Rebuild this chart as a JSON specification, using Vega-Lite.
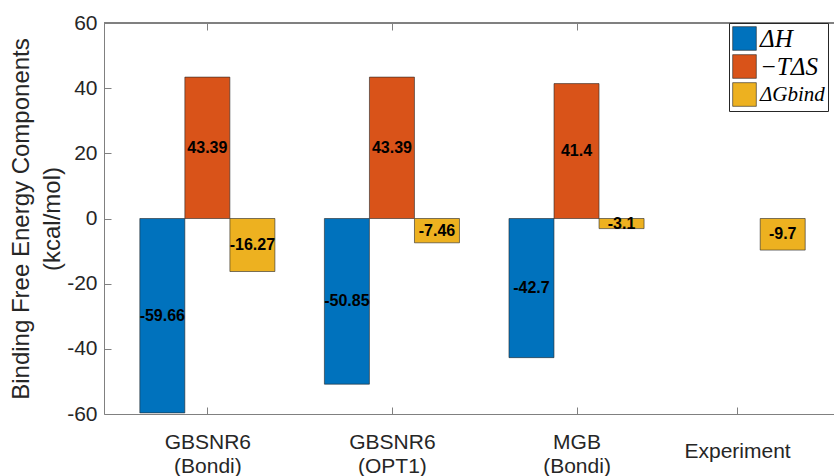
{
  "$schema": "https://vega.github.io/schema/vega-lite/v6.json",
  "width": 730,
  "height": 391,
  "autosize": "none",
  "padding": {"left": 104, "top": 23, "right": 0, "bottom": 62},
  "background": "white",
  "config": {
    "view": {"stroke": null},
    "font": "Liberation Sans",
    "axis": {"grid": false, "domainColor": "#808080", "tickColor": "#808080", "labelColor": "#262626", "titleColor": "#262626", "labelFont": "Liberation Sans", "titleFont": "Liberation Sans"}
  },
  "data": {
    "values": [
      {"method": "GBSNR6 (Bondi)", "component": "ΔH", "value": -59.66, "pos": 0.756},
      {"method": "GBSNR6 (Bondi)", "component": "−TΔS", "value": 43.39, "pos": 1.0},
      {"method": "GBSNR6 (Bondi)", "component": "ΔGbind", "value": -16.27, "pos": 1.244},
      {"method": "GBSNR6 (OPT1)", "component": "ΔH", "value": -50.85, "pos": 1.756},
      {"method": "GBSNR6 (OPT1)", "component": "−TΔS", "value": 43.39, "pos": 2.0},
      {"method": "GBSNR6 (OPT1)", "component": "ΔGbind", "value": -7.46, "pos": 2.244},
      {"method": "MGB (Bondi)", "component": "ΔH", "value": -42.7, "pos": 2.756},
      {"method": "MGB (Bondi)", "component": "−TΔS", "value": 41.4, "pos": 3.0},
      {"method": "MGB (Bondi)", "component": "ΔGbind", "value": -3.1, "pos": 3.244},
      {"method": "Experiment", "component": "ΔGbind", "value": -9.7, "pos": 4.117}
    ]
  },
  "layer": [
    {
      "mark": {"type": "bar", "size": 45, "stroke": "#262626", "strokeWidth": 0.6},
      "encoding": {
        "x": {
          "field": "pos", "type": "quantitative",
          "scale": {"domain": [0.44, 4.395], "nice": false, "zero": false, "padding": 0},
          "axis": {
            "orient": "bottom", "title": null,
            "values": [1, 2, 3, 3.87],
            "labelExpr": "datum.value == 1 ? ['GBSNR6', '(Bondi)'] : datum.value == 2 ? ['GBSNR6', '(OPT1)'] : datum.value == 3 ? ['MGB', '(Bondi)'] : 'Experiment'",
            "labelFontSize": 21, "labelLineHeight": 24, "labelBaseline": "middle",
            "labelPadding": {"condition": {"test": "datum.value > 3.5", "value": 44}, "value": 35},
            "tickSize": -7, "labelFlush": false, "labelOverlap": false
          }
        },
        "y": {
          "field": "value", "type": "quantitative",
          "scale": {"domain": [-60, 60], "nice": false, "padding": 0},
          "axis": {
            "values": [-60, -40, -20, 0, 20, 40, 60],
            "labelExpr": "toString(datum.value)",
            "labelFontSize": 21, "labelPadding": 14, "tickSize": -7,
            "title": ["Binding Free Energy Components", "(kcal/mol)"],
            "titleFontSize": 24, "titleFontWeight": "normal", "titleLineHeight": 31, "titlePadding": 2
          }
        },
        "color": {
          "field": "component", "type": "nominal",
          "scale": {"domain": ["ΔH", "−TΔS", "ΔGbind"], "range": ["#0072BD", "#D95319", "#EDB120"]},
          "legend": {
            "orient": "none", "legendX": 625, "legendY": 0, "title": null,
            "labelFont": "Liberation Serif", "labelFontStyle": "italic", "labelFontSize": 25, "labelColor": "#000000",
            "symbolType": "square", "symbolSize": 560, "symbolStrokeColor": "#262626", "symbolStrokeWidth": 0.6, "symbolOpacity": 1,
            "strokeColor": "#262626", "fillColor": "white", "padding": 3, "rowPadding": 1, "labelOffset": 3,
            "encode": {"labels": {"update": {"fontSize": {"signal": "datum.value === 'ΔGbind' ? 21 : 25"}}}}
          }
        }
      }
    },
    {
      "mark": {"type": "rule", "color": "#808080", "strokeWidth": 1},
      "encoding": {"y": {"datum": 0, "type": "quantitative"}}
    },
    {
      "mark": {"type": "text", "fontWeight": "bold", "fontSize": 16, "color": "#000000", "font": "Liberation Sans"},
      "encoding": {
        "x": {
          "field": "pos", "type": "quantitative",
          "axis": {"orient": "top", "labels": false, "title": null, "values": [1, 2, 3, 3.87], "tickSize": -7}
        },
        "y": {"field": "value", "type": "quantitative", "scale": {"domain": [-120, 120], "nice": false}, "axis": null},
        "text": {"field": "value", "type": "nominal"}
      }
    }
  ],
  "resolve": {"scale": {"y": "independent"}}
}
